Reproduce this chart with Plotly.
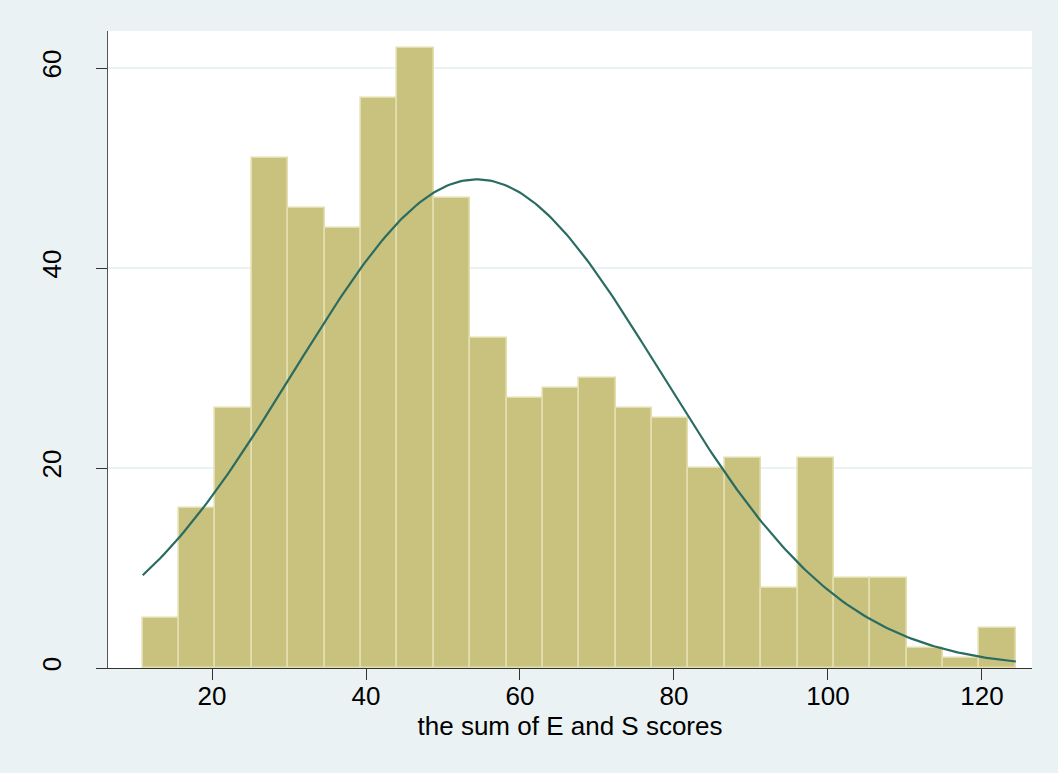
import numpy as np
import plotly.graph_objects as go

# Histogram data
bin_start = 11.0
bin_end = 124.4
counts = [5, 16, 26, 51, 46, 44, 57, 62, 47, 33, 27, 28, 29, 26, 25, 20, 21, 8, 21, 9, 9, 2, 1, 4]
# Normal curve parameters
n_obs = sum(counts)
mean_val = 54.4
sd_val = 23.8

x_ticks = [20, 40, 60, 80, 100, 120]
y_ticks = [0, 20, 40, 60]

nbins = len(counts)
width = (bin_end - bin_start) / nbins
centers = [bin_start + width * (i + 0.5) for i in range(nbins)]

xs = np.linspace(bin_start, bin_end, 300)
ys = n_obs * width / (sd_val * np.sqrt(2 * np.pi)) * np.exp(-0.5 * ((xs - mean_val) / sd_val) ** 2)

fig = go.Figure()
fig.add_trace(go.Bar(
    x=centers, y=counts, width=width,
    marker=dict(color="#C9C17E", line=dict(color="#E2DEAE", width=1.6)),
    hoverinfo="x+y",
))
fig.add_trace(go.Scatter(
    x=xs, y=ys, mode="lines",
    line=dict(color="#2A6C62", width=2.2),
))

font_family = "Liberation Sans, Arial, Helvetica, sans-serif"
fig.update_layout(
    width=1058, height=773,
    paper_bgcolor="#EAF2F3",
    plot_bgcolor="#FFFFFF",
    showlegend=False,
    bargap=0,
    margin=dict(l=108, r=26, t=31, b=105),
    font=dict(family=font_family, size=26, color="#000000"),
    xaxis=dict(
        range=[6.49, 126.5],
        tickvals=x_ticks,
        ticks="outside", ticklen=11, tickcolor="#333333", tickwidth=1.3,
        showline=True, linecolor="#333333", linewidth=1.3,
        showgrid=False, zeroline=False,
        title=dict(text="the sum of E and S scores", standoff=0, font=dict(size=26)),
        tickfont=dict(size=26),
        ticklabelstandoff=-6,
    ),
    yaxis=dict(
        range=[0, 63.7],
        tickvals=y_ticks,
        tickangle=-90,
        ticks="outside", ticklen=11, tickcolor="#333333", tickwidth=1.3,
        showline=True, linecolor="#555555", linewidth=1.3,
        showgrid=True, gridcolor="#EAF2F3", gridwidth=1.6,
        zeroline=False,
        tickfont=dict(size=26),
        ticklabelstandoff=24,
    ),
)

fig.write_html(
    "out.html",
    config={"displayModeBar": False},
    post_script="document.body.style.margin='0';document.body.style.padding='0';document.body.style.background='#EAF2F3';",
)
